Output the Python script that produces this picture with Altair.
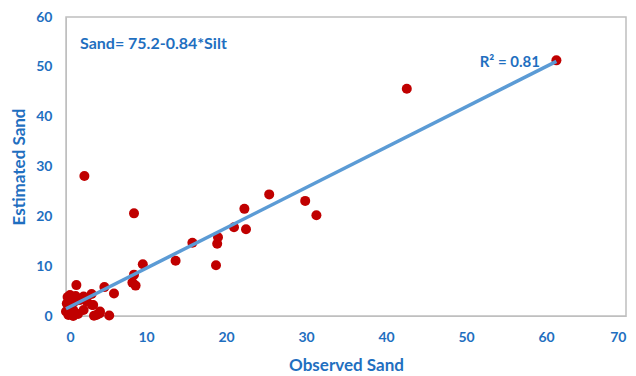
import altair as alt
import pandas as pd

observed = [61.3, 42.6, 2.3, 8.5, 25.4, 29.9, 31.3, 22.3, 21.0, 22.5, 19.0, 18.9, 18.75,
            15.8, 13.7, 9.6, 8.5, 8.3, 8.7, 6.0, 4.8, 1.3, 3.25, 5.4, 4.2, 3.5, 3.2,
            2.2, 0.5, 0.5, 1.1, 1.75, 2.6, 3.4, 0.3, 0.9, 0.3, 0.9, 1.5, 2.2, 3.8,
            4.25, 0.0, 0.1, 0.2, 0.6, 1.2]
estimated = [51.3, 45.6, 28.1, 20.6, 24.4, 23.1, 20.2, 21.5, 17.8, 17.4, 15.8, 14.5, 10.2,
             14.7, 11.1, 10.4, 8.3, 6.7, 6.1, 4.5, 5.8, 6.2, 2.2, 0.1, 0.5, 0.05, 4.4,
             3.9, 4.2, 3.2, 2.9, 3.2, 2.9, 2.2, 1.9, 1.2, 0.2, 0.0, 0.4, 1.2, 0.2,
             0.9, 0.9, 2.5, 3.8, 0.6, 4.0]

equation_text = "Sand= 75.2-0.84*Silt"
r2_text = "R² = 0.81"

df = pd.DataFrame({"Observed Sand": observed, "Estimated Sand": estimated})

BLUE = "#1F6FC0"
FONT = "Lato"

xscale = alt.Scale(domain=[0, 70], nice=False, zero=True)
yscale = alt.Scale(domain=[0, 60], nice=False, zero=True)

xaxis = alt.Axis(values=[0, 10, 20, 30, 40, 50, 60, 70], grid=False, ticks=False,
                 labelPadding=14, labelFontSize=14, labelFontWeight="bold", labelColor=BLUE,
                 labelFont=FONT, title="Observed Sand", titleFontSize=17, titleFont=FONT,
                 titleFontWeight="bold", titleColor=BLUE, titlePadding=13,
                 domainColor="#BFBFBF")
yaxis = alt.Axis(values=[0, 10, 20, 30, 40, 50, 60], grid=False, ticks=False,
                 labelPadding=14, labelFontSize=14, labelFontWeight="bold", labelColor=BLUE,
                 labelFont=FONT, title="Estimated Sand", titleFontSize=17, titleFont=FONT,
                 titleFontWeight="bold", titleColor=BLUE, titlePadding=7,
                 domainColor="#BFBFBF")

base = alt.Chart(df)

points = base.mark_circle(size=100, color="#C00000", opacity=1).encode(
    x=alt.X("Observed Sand:Q", scale=xscale, axis=xaxis),
    y=alt.Y("Estimated Sand:Q", scale=yscale, axis=yaxis),
)

trend = base.transform_regression("Observed Sand", "Estimated Sand").mark_line(
    color="#5B9BD5", strokeWidth=3.5
).encode(
    x=alt.X("Observed Sand:Q", scale=xscale),
    y=alt.Y("Estimated Sand:Q", scale=yscale),
)

eq = alt.Chart(pd.DataFrame({"t": [equation_text]})).mark_text(
    align="left", baseline="middle", fontSize=16, fontWeight="bold", font=FONT, color=BLUE
).encode(x=alt.value(14), y=alt.value(27), text="t:N")

r2 = alt.Chart(pd.DataFrame({"t": [r2_text]})).mark_text(
    align="right", baseline="middle", fontSize=15, fontWeight="bold", font=FONT, color=BLUE
).encode(x=alt.value(474), y=alt.value(45), text="t:N")

chart = alt.layer(points, trend, eq, r2).properties(
    width=560, height=299,
    autosize=alt.AutoSizeParams(type="none"),
    padding={"left": 58, "top": 9, "right": 2, "bottom": 60},
).configure_view(stroke="#BFBFBF", strokeWidth=1.5)

chart.save("out.html", embed_options={"renderer": "svg", "actions": False})
